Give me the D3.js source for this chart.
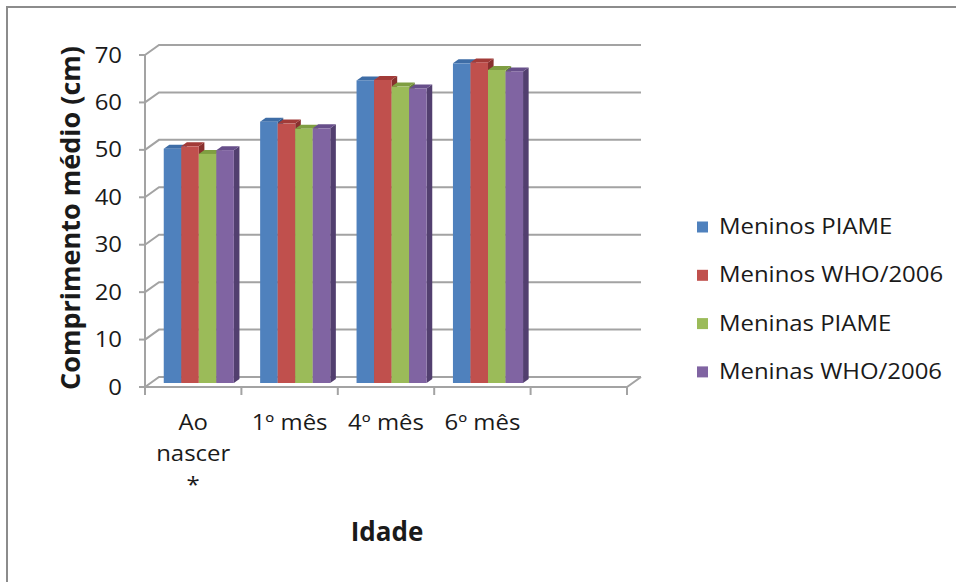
<!DOCTYPE html>
<html>
<head>
<meta charset="utf-8">
<script src="https://cdn.jsdelivr.net/npm/d3@7/dist/d3.min.js"></script>
<style>
  html, body { margin: 0; padding: 0; background: #fff; }
  svg { display: block; }
  text { font-family: "Open Sans", "Noto Sans", sans-serif; fill: #1a1a1a; }
</style>
</head>
<body>
<svg id="chart" width="956" height="582"></svg>
<script>
// Mean length (cm) by age, PIAME cohort vs WHO/2006 standard
const categories = ["Ao\nnascer\n*", "1º mês", "4º mês", "6º mês"];
const seriesNames = ["Meninos PIAME", "Meninos WHO/2006", "Meninas PIAME", "Meninas WHO/2006"];
const meninosPIAME = [49.4, 55.1, 63.8, 67.4];
const meninosWHO   = [49.9, 54.7, 63.9, 67.6];
const meninasPIAME = [48.3, 53.6, 62.5, 66.0];
const meninasWHO   = [49.1, 53.7, 62.1, 65.7];
const yTicks = [0, 10, 20, 30, 40, 50, 60, 70];

const seriesValues = [meninosPIAME, meninosWHO, meninasPIAME, meninasWHO];
const faceColors = [
  { front: "#4F81BD", top: "#3E6DA6", side: "#2F5586" },
  { front: "#C0504D", top: "#A23B38", side: "#88302E" },
  { front: "#9BBB59", top: "#7F9E42", side: "#698535" },
  { front: "#8064A2", top: "#674F8A", side: "#523F6F" }
];

const FONT = 21;      // body text size
const WIDEN = 1.14;   // horizontal widening of the body text

const svg = d3.select("#chart");

// text placed at (x, y), widened horizontally around its anchor point
function wideText(parent, x, y, anchor, size) {
  return parent.append("g").attr("transform", `translate(${x},${y}) scale(${WIDEN},1)`)
    .append("text").attr("text-anchor", anchor).attr("font-size", size || FONT);
}

// chart frame (continues past the right and bottom edges)
svg.append("rect").attr("x", 7).attr("y", 7).attr("width", 980).attr("height", 600)
  .attr("fill", "none").attr("stroke", "#8c8c8c").attr("stroke-width", 2);

// 3D geometry: depth offset of back wall, bar placement inside the depth
const DX = 14, DY = -10;
const barFront = 0.4, barDepth = 0.4;

// five slots on the floor, the last one left empty
const x0 = d3.scaleBand().domain(d3.range(categories.length + 1)).range([145, 627]);
const x1 = d3.scaleBand().domain(d3.range(seriesNames.length))
  .range([0, x0.bandwidth()]).paddingInner(0).paddingOuter(0.75);
const y = d3.scaleLinear().domain([0, 70]).range([387, 55]);

const xLeft = x0.range()[0], xRight = x0.range()[1];

// back-wall gridlines with their diagonal on the left wall
const grid = svg.append("g").attr("fill", "none").attr("stroke", "#a3a3a3").attr("stroke-width", 2);
yTicks.forEach(v => {
  grid.append("path").attr("d",
    `M${xLeft},${y(v)} L${xLeft + DX},${y(v) + DY} L${xRight + DX},${y(v) + DY}`);
});
// floor front edge and right diagonal
grid.append("path").attr("d",
  `M${xLeft},${y(0)} L${xRight},${y(0)} L${xRight + DX},${y(0) + DY}`);

// bars
const fx = DX * barFront, fy = DY * barFront;
const bx = DX * barDepth, by = DY * barDepth;
const bars = svg.append("g");
categories.forEach((c, ci) => {
  seriesValues.forEach((vals, si) => {
    const v = vals[ci];
    const xl = x0(ci) + x1(si) + fx;
    const xr = xl + x1.bandwidth();
    const yt = y(v) + fy;
    const yb = y(0) + fy;
    const col = faceColors[si];
    const g = bars.append("g");
    // right side face
    g.append("path").attr("fill", col.side)
      .attr("d", `M${xr},${yt} L${xr + bx},${yt + by} L${xr + bx},${yb + by} L${xr},${yb} Z`);
    // top face
    g.append("path").attr("fill", col.top)
      .attr("d", `M${xl},${yt} L${xl + bx},${yt + by} L${xr + bx},${yt + by} L${xr},${yt} Z`);
    // front face
    g.append("rect").attr("fill", col.front)
      .attr("x", xl).attr("y", yt).attr("width", xr - xl).attr("height", yb - yt);
  });
});

// front value axis
const axis = svg.append("g").attr("stroke", "#a3a3a3").attr("stroke-width", 2).attr("fill", "none");
axis.append("line").attr("x1", xLeft).attr("x2", xLeft).attr("y1", y(0) + 1).attr("y2", y(70));
yTicks.forEach(v => {
  axis.append("line").attr("x1", xLeft - 6).attr("x2", xLeft).attr("y1", y(v)).attr("y2", y(v));
});
// category ticks on the floor
x0.domain().concat([x0.domain().length]).forEach(i => {
  const xx = i < x0.domain().length ? x0(i) : xRight;
  axis.append("line").attr("x1", xx).attr("x2", xx).attr("y1", y(0)).attr("y2", y(0) + 8);
});

// y tick labels
yTicks.forEach(v => {
  wideText(svg, 122, y(v), "end").attr("dy", "0.36em").text(v);
});

// category labels
categories.forEach((c, ci) => {
  const t = wideText(svg, x0(ci) + x0.bandwidth() / 2, 430, "middle");
  c.split("\n").forEach((line, li) => {
    t.append("tspan").attr("x", 0).attr("dy", li === 0 ? 0 : 31).text(line);
  });
});

// axis titles
svg.append("text").attr("x", 387).attr("y", 541).attr("text-anchor", "middle")
  .attr("font-size", 26).attr("font-weight", "bold").text("Idade");
svg.append("text").attr("transform", "translate(80,218) rotate(-90)")
  .attr("text-anchor", "middle").attr("font-size", 27).attr("font-weight", "bold")
  .text("Comprimento médio (cm)");

// legend
const legend = svg.append("g");
seriesNames.forEach((name, i) => {
  const cy = 227 + i * 48.3;
  legend.append("rect").attr("x", 697).attr("y", cy - 5.5).attr("width", 11).attr("height", 11)
    .attr("fill", faceColors[i].front);
  wideText(legend, 719, cy + 7, "start").text(name);
});
</script>
</body>
</html>
